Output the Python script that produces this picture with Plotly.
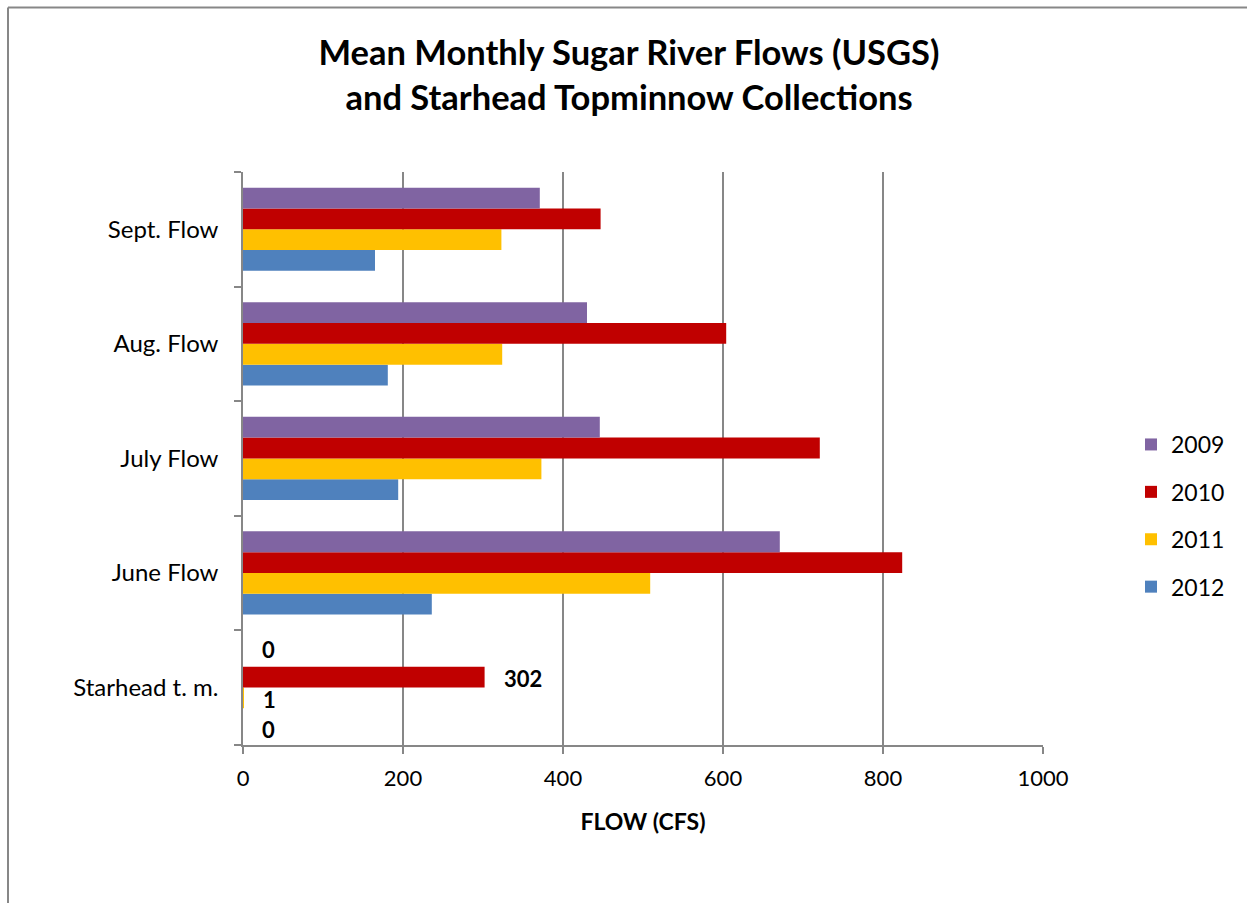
import plotly.graph_objects as go

categories = ["Starhead t. m.", "June Flow", "July Flow", "Aug. Flow", "Sept. Flow"]
years = ["2009", "2010", "2011", "2012"]
values = {
    "2009": [0, 671, 446, 430, 371],
    "2010": [302, 824, 721, 604, 447],
    "2011": [1, 509, 373, 324, 323],
    "2012": [0, 236, 194, 181, 165],
}
colors = {"2009": "#8064A2", "2010": "#C00000", "2011": "#FFC000", "2012": "#4F81BD"}
labelled_category = "Starhead t. m."
x_ticks = [0, 200, 400, 600, 800, 1000]

# vertical pixel offset of each data label from the category centre (layout style)
label_yshift = {"2009": 38, "2010": 9, "2011": -12, "2012": -42}

FONT = "Lato"
GRID = "#878787"

fig = go.Figure()
for yr in reversed(years):
    fig.add_trace(go.Bar(
        y=categories, x=values[yr], name=yr, orientation="h",
        marker=dict(color=colors[yr], line=dict(width=0)),
        legendrank=years.index(yr) + 1, legendgroup=yr,
    ))

annotations = []
idx = categories.index(labelled_category)
for yr in years:
    v = values[yr][idx]
    annotations.append(dict(
        x=v, y=labelled_category, xref="x", yref="y",
        text=str(v), showarrow=False, xanchor="left", yanchor="middle",
        xshift=17, yshift=label_yshift[yr],
        font=dict(family=FONT, size=22, color="black", weight="bold"),
    ))

W, H = 1247, 903
L, R, T, B = 243, 1043, 172, 745

fig.update_layout(
    width=W, height=H,
    margin=dict(l=L, r=W - R, t=T, b=H - B, pad=0, autoexpand=False),
    paper_bgcolor="white", plot_bgcolor="white",
    barmode="group", bargap=0.274, bargroupgap=0,
    font=dict(family=FONT, size=23, color="black"),
    title=dict(
        text="Mean Monthly Sugar River Flows (USGS)<br>and Starhead Topminnow Collections",
        x=629 / W, xref="container", xanchor="center",
        y=1 - 65 / H, yref="container", yanchor="top",
        font=dict(family=FONT, size=34.5, color="black", weight="bold"),
    ),
    legend=dict(
        x=(1131 - L) / (R - L), xanchor="left",
        y=(B - 423) / (B - T), yanchor="top",
        font=dict(family=FONT, size=23, color="black"),
        itemsizing="constant", tracegroupgap=14.5,
        bgcolor="rgba(0,0,0,0)",
    ),
    xaxis=dict(
        range=[0, 1000], tickvals=x_ticks, ticktext=[str(v) for v in x_ticks],
        showgrid=True, gridcolor=GRID, gridwidth=1.5,
        showline=True, linecolor=GRID, linewidth=1.5,
        ticks="outside", ticklen=7, tickcolor=GRID, tickwidth=1.5,
        tickfont=dict(family=FONT, size=22),
        ticklabelstandoff=6,
        title=dict(text="FLOW (CFS)", font=dict(family=FONT, size=23, weight="bold"), standoff=24),
        zeroline=False, fixedrange=True,
    ),
    yaxis=dict(
        categoryorder="array", categoryarray=categories,
        showline=True, linecolor=GRID, linewidth=1.5,
        ticks="outside", tickson="boundaries", ticklen=7, tickcolor=GRID, tickwidth=1.5,
        tickfont=dict(family=FONT, size=24),
        ticklabelstandoff=18,
        showgrid=False, fixedrange=True,
    ),
    annotations=annotations,
    shapes=[
        dict(type="line", xref="paper", yref="paper",
             x0=(8 - L) / (R - L), x1=(8 - L) / (R - L),
             y0=(B - 905) / (B - T), y1=(B - 7.5) / (B - T),
             line=dict(color=GRID, width=2)),
        dict(type="line", xref="paper", yref="paper",
             x0=(8 - L) / (R - L), x1=(1250 - L) / (R - L),
             y0=(B - 7.5) / (B - T), y1=(B - 7.5) / (B - T),
             line=dict(color=GRID, width=2)),
    ],
)

fig.write_html("out.html")
